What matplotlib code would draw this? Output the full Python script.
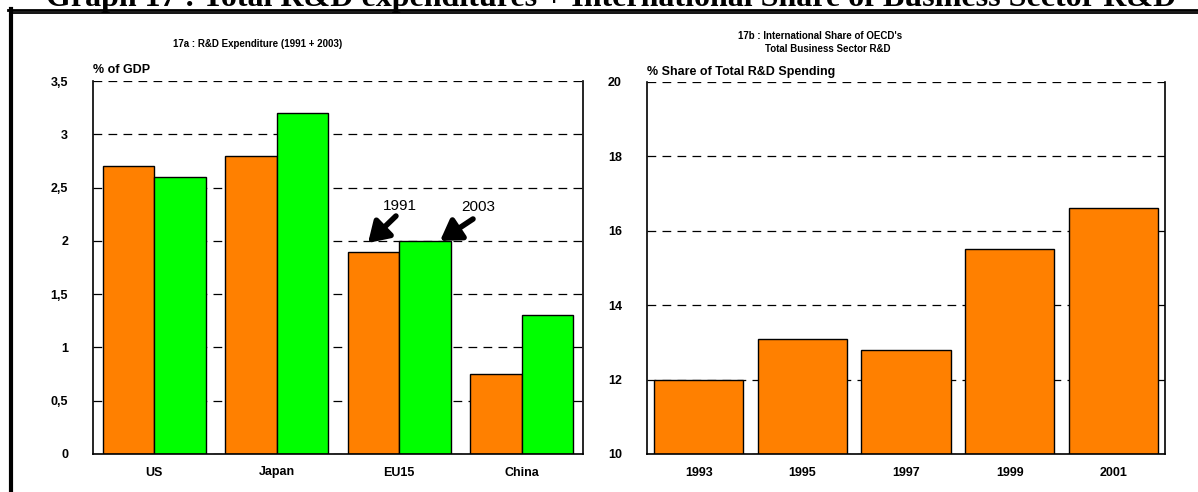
import matplotlib
matplotlib.use("Agg")
import matplotlib.pyplot as plt
from matplotlib.lines import Line2D
import numpy as np

plt.rcParams["font.family"] = ["Liberation Sans", "DejaVu Sans"]

# 17a: R&D expenditure as % of GDP
countries = ["US", "Japan", "EU15", "China"]
rd_1991 = [2.7, 2.8, 1.9, 0.75]
rd_2003 = [2.6, 3.2, 2.0, 1.3]
left_ticks = [0, 0.5, 1, 1.5, 2, 2.5, 3, 3.5]
left_ticklabels = ["0", "0,5", "1", "1,5", "2", "2,5", "3", "3,5"]

# 17b: international share of OECD business sector R&D
years = ["1993", "1995", "1997", "1999", "2001"]
share = [12.0, 13.1, 12.8, 15.5, 16.6]
right_ticks = [10, 12, 14, 16, 18, 20]

ORANGE = "#FF8000"
GREEN = "#00FF00"

W, H = 1198, 492
fig = plt.figure(figsize=(W / 100, H / 100), dpi=100)


def fx(px):
    return px / W


def fy(py):
    return 1 - py / H


# Page header, running off the top edge of the page
fig.text(fx(611), fy(6), "Graph 17 : Total R&D expenditures + International Share of Business Sector R&D",
         family=["Liberation Serif", "DejaVu Serif"], weight="bold", fontsize=23,
         ha="center", va="baseline")

# Frame lines
fig.add_artist(Line2D([fx(8), 1], [fy(10), fy(10)], color="black", lw=2.0))
fig.add_artist(Line2D([fx(12), 1], [fy(13.2), fy(13.2)], color="black", lw=1.3))
fig.add_artist(Line2D([fx(10.5), fx(10.5)], [fy(9.2), 0], color="black", lw=3.0))


def style_axes(ax):
    ax.spines["top"].set_visible(False)
    for s in ("left", "right", "bottom"):
        ax.spines[s].set_linewidth(1.2)
        ax.spines[s].set_color("black")
    ax.tick_params(axis="both", length=0, labelsize=9)
    ax.tick_params(axis="y", pad=18)
    ax.tick_params(axis="x", pad=9)
    for lab in ax.get_xticklabels() + ax.get_yticklabels():
        lab.set_fontweight("bold")
    ax.yaxis.grid(True, linestyle=(0, (7, 5)), color="black", lw=0.9)
    ax.set_axisbelow(True)


# ---- Left panel ----
axl = fig.add_axes([fx(93), fy(454), fx(583 - 93), fy(81) - fy(454)])
x = np.arange(len(countries))
bw = 0.42
axl.bar(x - bw / 2, rd_1991, bw, color=ORANGE, edgecolor="black", lw=1.0)
axl.bar(x + bw / 2, rd_2003, bw, color=GREEN, edgecolor="black", lw=1.0)
axl.set_xlim(-0.5, len(countries) - 0.5)
axl.set_ylim(0, 3.5)
axl.set_yticks(left_ticks)
axl.set_yticklabels(left_ticklabels)
axl.set_xticks(x)
axl.set_xticklabels(countries)
style_axes(axl)

fig.text(fx(93), fy(70), "% of GDP", fontsize=9, weight="bold", ha="left", va="center")
fig.text(fx(258), fy(44), "17a : R&D Expenditure (1991 + 2003)", fontsize=7, weight="bold",
         ha="center", va="center")

# Year call-outs on the EU15 pair
eu = countries.index("EU15")
arrow_kw = dict(arrowstyle="-|>,head_length=0.6,head_width=0.38", color="black", lw=4.0,
                shrinkA=0, shrinkB=0, mutation_scale=20)
axl.text(eu + 0.006, 2.33, "1991", fontsize=11, ha="center", va="center")
axl.text(eu + 0.643, 2.32, "2003", fontsize=11, ha="center", va="center")
axl.annotate("", xy=(eu - 0.255, rd_1991[eu] + 0.08), xytext=(eu - 0.027, 2.233),
             arrowprops=arrow_kw)
axl.annotate("", xy=(eu + 0.333, rd_2003[eu]), xytext=(eu + 0.602, 2.205),
             arrowprops=arrow_kw)

# ---- Right panel ----
axr = fig.add_axes([fx(647), fy(454), fx(1165 - 647), fy(82) - fy(454)])
xr = np.arange(len(years))
axr.bar(xr, share, 0.86, color=ORANGE, edgecolor="black", lw=1.0)
axr.set_xlim(-0.5, len(years) - 0.5)
axr.set_ylim(10, 20)
axr.set_yticks(right_ticks)
axr.set_xticks(xr)
axr.set_xticklabels(years)
style_axes(axr)

fig.text(fx(647), fy(72), "% Share of Total R&D Spending", fontsize=9, weight="bold",
         ha="left", va="center")
fig.text(fx(738), fy(36), "17b : International Share of OECD's", fontsize=7, weight="bold",
         ha="left", va="center")
fig.text(fx(765), fy(49), "Total Business Sector R&D", fontsize=7, weight="bold",
         ha="left", va="center")

fig.savefig("out.png", dpi=100)
